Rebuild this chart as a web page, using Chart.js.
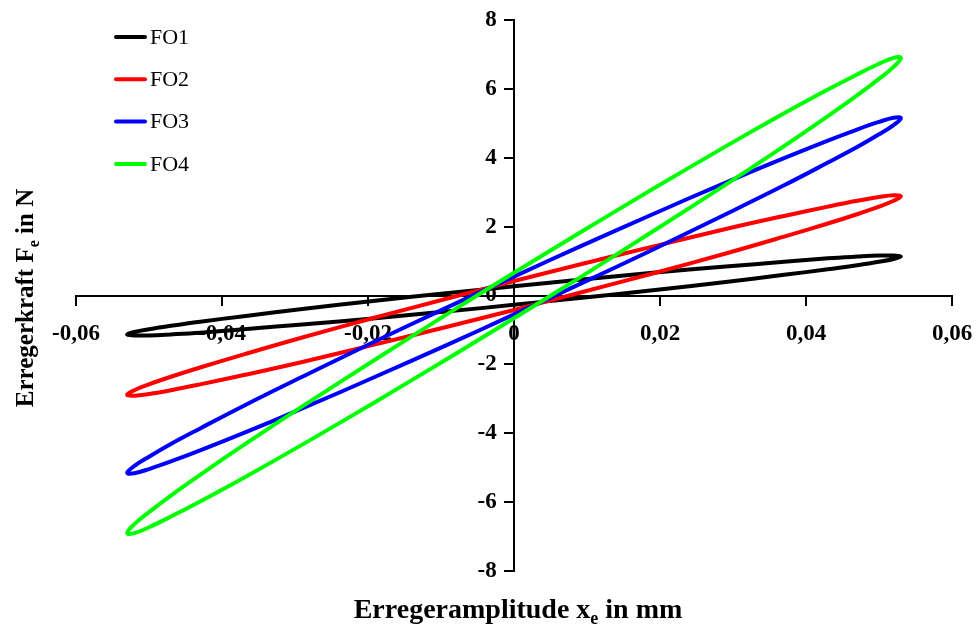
<!DOCTYPE html>
<html>
<head>
<meta charset="utf-8">
<script src="https://cdn.jsdelivr.net/npm/chart.js@4.4.0/dist/chart.umd.min.js"></script>
<style>
  html, body { margin: 0; padding: 0; background: #fff; }
  #wrap { width: 976px; height: 625px; }
</style>
</head>
<body>
<div id="wrap"><canvas id="loopChart" width="976" height="625"></canvas></div>
<script>
// --- data ---
// x positions (mm) where both branches of every loop were read
const xs = [-0.053, -0.052, -0.05, -0.047, -0.043, -0.037, -0.029, -0.019, -0.009, 0,
            0.009, 0.019, 0.029, 0.037, 0.043, 0.047, 0.05, 0.052, 0.053];

const seriesNames = ['FO1', 'FO2', 'FO3', 'FO4'];
const seriesColors = ['#000000', '#ff0000', '#0000ff', '#00ff00'];

// upper branch (F in N) at each xs
const fo1Upper = [-1.13, -1.06, -0.98, -0.88, -0.76, -0.60, -0.39, -0.15, 0.07, 0.27, 0.46, 0.66, 0.84, 0.98, 1.08, 1.13, 1.16, 1.16, 1.13];
const fo2Upper = [-2.88, -2.75, -2.58, -2.36, -2.09, -1.71, -1.22, -0.64, -0.08, 0.42, 0.90, 1.42, 1.93, 2.31, 2.58, 2.75, 2.86, 2.91, 2.88];
const fo3Upper = [-5.15, -4.95, -4.68, -4.31, -3.86, -3.20, -2.36, -1.33, -0.33, 0.55, 1.42, 2.36, 3.28, 3.99, 4.50, 4.82, 5.04, 5.16, 5.15];
const fo4Upper = [-6.90, -6.64, -6.29, -5.81, -5.21, -4.34, -3.22, -1.86, -0.52, 0.66, 1.82, 3.09, 4.33, 5.29, 5.98, 6.42, 6.73, 6.90, 6.90];

// lower branch (F in N) at each xs
const fo1Lower = [-1.13, -1.16, -1.16, -1.13, -1.08, -0.98, -0.84, -0.66, -0.46, -0.27, -0.07, 0.15, 0.39, 0.60, 0.76, 0.88, 0.98, 1.06, 1.13];
const fo2Lower = [-2.88, -2.91, -2.86, -2.75, -2.58, -2.31, -1.93, -1.42, -0.90, -0.42, 0.08, 0.64, 1.22, 1.71, 2.09, 2.36, 2.58, 2.75, 2.88];
const fo3Lower = [-5.15, -5.16, -5.04, -4.82, -4.50, -3.99, -3.28, -2.36, -1.42, -0.55, 0.33, 1.33, 2.36, 3.20, 3.86, 4.31, 4.68, 4.95, 5.15];
const fo4Lower = [-6.90, -6.90, -6.73, -6.42, -5.98, -5.29, -4.33, -3.09, -1.82, -0.66, 0.52, 1.86, 3.22, 4.34, 5.21, 5.81, 6.29, 6.64, 6.90];

const xTicks = [-0.06, -0.04, -0.02, 0, 0.02, 0.04, 0.06];
const yTicks = [-8, -6, -4, -2, 0, 2, 4, 6, 8];

const xTitle = ['Erregeramplitude x', 'e', ' in mm'];
const yTitle = ['Erregerkraft F', 'e', ' in N'];

const FONT = "'Liberation Serif', 'Times New Roman', serif";

// closed loop: start at x=0 on the upper branch, go right, back along the lower one, close
function buildLoop(upper, lower) {
  const pts = [];
  const mid = xs.indexOf(0);
  for (let i = mid; i < xs.length; i++) pts.push({ x: xs[i], y: upper[i] });
  for (let i = xs.length - 2; i >= 0; i--) pts.push({ x: xs[i], y: lower[i] });
  for (let i = 1; i <= mid; i++) pts.push({ x: xs[i], y: upper[i] });
  return pts;
}

const uppers = [fo1Upper, fo2Upper, fo3Upper, fo4Upper];
const lowers = [fo1Lower, fo2Lower, fo3Lower, fo4Lower];

const datasets = seriesNames.map((name, i) => ({
  label: name,
  data: buildLoop(uppers[i], lowers[i]),
  borderColor: seriesColors[i],
  backgroundColor: seriesColors[i],
  borderWidth: 4,
  showLine: true,
  tension: 0.4,
  pointRadius: 0,
  fill: false,
  order: seriesNames.length - i
}));

function fmtX(v) {
  const r = Math.round(v * 100) / 100;
  return r === 0 ? '0' : r.toFixed(2).replace('.', ',');
}

// draws a text made of [main, subscript, rest] starting at x
function drawSubText(ctx, parts, x, y, size) {
  ctx.font = 'bold ' + size + 'px ' + FONT;
  ctx.fillText(parts[0], x, y);
  let cx = x + ctx.measureText(parts[0]).width;
  ctx.font = 'bold ' + Math.round(size * 0.65) + 'px ' + FONT;
  ctx.fillText(parts[1], cx, y + size * 0.22);
  cx += ctx.measureText(parts[1]).width;
  ctx.font = 'bold ' + size + 'px ' + FONT;
  ctx.fillText(parts[2], cx, y);
}

function subTextWidth(ctx, parts, size) {
  ctx.font = 'bold ' + size + 'px ' + FONT;
  let w = ctx.measureText(parts[0]).width + ctx.measureText(parts[2]).width;
  ctx.font = 'bold ' + Math.round(size * 0.65) + 'px ' + FONT;
  return w + ctx.measureText(parts[1]).width;
}

const extrasPlugin = {
  id: 'extras',
  afterDraw(chart) {
    const ctx = chart.ctx;
    ctx.save();
    ctx.fillStyle = '#000';
    ctx.textBaseline = 'alphabetic';
    ctx.textAlign = 'left';

    // axis titles
    const wx = subTextWidth(ctx, xTitle, 28);
    drawSubText(ctx, xTitle, 518 - wx / 2, 618, 28);

    const wy = subTextWidth(ctx, yTitle, 25);
    ctx.save();
    ctx.translate(33, 298);
    ctx.rotate(-Math.PI / 2);
    drawSubText(ctx, yTitle, -wy / 2, 0, 25);
    ctx.restore();

    // legend
    ctx.font = '22px ' + FONT;
    ctx.textBaseline = 'middle';
    chart.data.datasets.forEach((ds, i) => {
      const y = 37 + i * 42.3;
      ctx.strokeStyle = ds.borderColor;
      ctx.lineWidth = 4;
      ctx.lineCap = 'round';
      ctx.beginPath();
      ctx.moveTo(116, y);
      ctx.lineTo(145, y);
      ctx.stroke();
      ctx.fillStyle = '#000';
      ctx.fillText(ds.label, 150, y + 1);
    });
    ctx.restore();
  }
};

const chart = new Chart(document.getElementById('loopChart').getContext('2d'), {
  type: 'scatter',
  data: { datasets: datasets },
  options: {
    responsive: false,
    animation: false,
    layout: { padding: { left: 76, right: 24, top: 20, bottom: 54 } },
    plugins: {
      legend: { display: false },
      tooltip: { enabled: false }
    },
    scales: {
      x: {
        type: 'linear',
        position: { y: 0 },
        min: -0.06,
        max: 0.06,
        afterBuildTicks: axis => { axis.ticks = xTicks.map(v => ({ value: v })); },
        // labels at the ends may hang over; the outer padding already leaves room
        afterFit: axis => { axis.paddingLeft = 0; axis.paddingRight = 0; },
        ticks: {
          callback: v => fmtX(v),
          color: '#000',
          font: { family: FONT, size: 23, weight: 'bold' },
          padding: 16,
          maxRotation: 0,
          autoSkip: false
        },
        grid: { display: true, drawOnChartArea: false, drawTicks: true, tickLength: 9, color: '#000', lineWidth: 2 },
        border: { display: true, color: '#000', width: 2 }
      },
      y: {
        type: 'linear',
        position: { x: 0 },
        min: -8,
        max: 8,
        afterBuildTicks: axis => { axis.ticks = yTicks.map(v => ({ value: v })); },
        // the axis sits in the middle, so it should not eat space at the side
        afterFit: axis => { axis.width = 0; },
        ticks: {
          // trailing spaces keep the right-aligned labels clear of the axis
          callback: v => v + '   ',
          color: '#000',
          font: { family: FONT, size: 23, weight: 'bold' },
          padding: 0,
          autoSkip: false
        },
        grid: { display: true, drawOnChartArea: false, drawTicks: true, tickLength: 9, color: '#000', lineWidth: 2 },
        border: { display: true, color: '#000', width: 2 }
      }
    }
  },
  plugins: [extrasPlugin]
});
</script>
</body>
</html>
